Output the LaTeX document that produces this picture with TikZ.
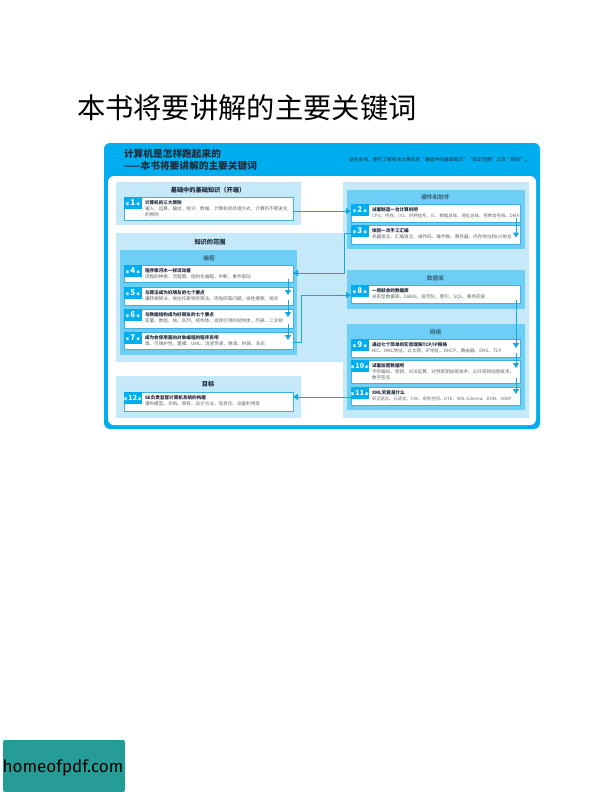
\documentclass[tikz,border=0pt]{standalone}
\usepackage{fontspec}
\setmainfont{Noto Sans CJK SC}
\newfontfamily\logofont{Fira Sans}
\usetikzlibrary{arrows.meta,calc}
\definecolor{outerblue}{HTML}{00AEEF}
\definecolor{lightblue}{HTML}{C6E9FA}
\definecolor{midblue}{HTML}{6DCFF6}
\definecolor{edgeblue}{HTML}{3FB0E0}
\definecolor{linkblue}{HTML}{12A8E6}
\definecolor{subgray}{HTML}{5F6368}
\definecolor{inkdark}{HTML}{1D2B3A}
\definecolor{logoteal}{HTML}{259C96}
\tikzset{
  x=1pt,y=-1pt,
  base/.style={inner sep=0pt,outer sep=0pt,anchor=north west},
  lightpanel/.style={base,fill=lightblue},
  midpanel/.style={base,fill=midblue},
  card/.style={base,fill=white,draw=edgeblue,line width=0.9pt},
  badge/.style={base,fill=outerblue,text=white,font=\fontsize{3.2}{4}\selectfont\bfseries,align=center},
  cardtext/.style={base,align=left,font=\fontsize{4.6}{6}\selectfont,text=subgray},
  ptitle/.style={inner sep=0pt,font=\fontsize{6.2}{7}\selectfont\bfseries,text=inkdark},
  stitle/.style={inner sep=0pt,font=\fontsize{5.7}{7}\selectfont,text=inkdark},
  link/.style={draw=linkblue,line width=1pt,-{Triangle[length=5pt,width=6pt]}},
}
\newcommand{\rbox}[6]{\node[#2,minimum width={(#5-#3)*1pt},minimum height={(#6-#4)*1pt}] (#1) at (#3,#4) {};}
\newcommand{\ecard}[8]{%
  \node[card,minimum width=169pt,minimum height={(#4-#3)*1pt}] (#1) at (#2,#3) {};
  \node[badge,minimum width=17.5pt,minimum height=12pt] (#1b) at (#2,#3) {第{\fontsize{#5}{8}\selectfont\,#6\,}章};
  \node[cardtext] (#1t) at ([shift={(21pt,-3.4pt)}]#1.north west) {{\color{inkdark}\bfseries #7}\\#8};
}
\begin{document}
\begin{tikzpicture}
\useasboundingbox (0,0) rectangle (612,792);
\fill[white] (0,0) rectangle (612,792);
\node[base,font=\fontsize{28.3}{30}\selectfont,text=black] (bigtitle) at (77,94.5) {本书将要讲解的主要关键词};
% frame
\node[base,fill=outerblue,rounded corners=6pt,minimum width=436pt,minimum height=286pt] (outer) at (104,143) {};
\node[base,fill=white,rounded corners=6pt,minimum width=428pt,minimum height=249pt] (inner) at (108,176) {};
\node[base,font=\fontsize{9.7}{11.7}\selectfont\bfseries,text=inkdark,align=left] (head) at (124,149) {计算机是怎样跑起来的\\——本书将要讲解的主要关键词};
\node[base,font=\fontsize{4.75}{6}\selectfont,text=inkdark] (intro) at (349,157.5) {读完本书，便可了解有关计算机的“基础中的基础知识”“知识范围”以及“目标”。};
% panels
\rbox{pbasic}{lightpanel}{116}{182}{301}{225}
\rbox{pscope}{lightpanel}{116}{233}{344}{362}
\rbox{pright}{lightpanel}{343}{182}{529}{418}
\rbox{pgoal}{lightpanel}{116}{376}{301}{418}
\rbox{mprog}{midpanel}{120}{250}{297}{355}
\rbox{mhard}{midpanel}{347}{190}{525}{249}
\rbox{mdb}{midpanel}{347}{270}{525}{309}
\rbox{mnet}{midpanel}{347}{324}{525}{410}
\node[ptitle] (tbasic) at (208,190) {基础中的基础知识（开端）};
\node[ptitle] (tscope) at (210,242) {知识的范围};
\node[ptitle] (tgoal) at (208,384) {目标};
\node[stitle] (tprog) at (209,258) {编程};
\node[stitle] (thard) at (435.5,197) {硬件和软件};
\node[stitle] (tdb) at (435.5,278) {数据库};
\node[stitle] (tnet) at (435.5,332) {网络};
% cards
\ecard{e1}{124}{197}{220}{8}{1}{计算机的三大原则}{输入、运算、输出、指令、数据、计算机的处理方式、计算机不断进化\\的原则}
\ecard{e4}{124}{265}{282.5}{8}{4}{程序像河水一样流动着}{流程的种类、流程图、结构化编程、中断、事件驱动}
\ecard{e5}{124}{287}{305}{8}{5}{与算法成为好朋友的七个要点}{辗转相除法、埃拉托斯特尼筛法、鸡兔同笼问题、线性搜索、哨兵}
\ecard{e6}{124}{309}{328}{8}{6}{与数据结构成为好朋友的七个要点}{变量、数组、栈、队列、结构体、自我引用的结构体、列表、二叉树}
\ecard{e7}{124}{332}{349}{8}{7}{成为会使用面向对象编程的程序员吧}{类、可维护性、建模、UML、消息传递、继承、封装、多态}
\ecard{e12}{124}{392}{411}{7}{12}{SE负责监督计算机系统的构建}{瀑布模型、文档、审核、设计方法、信息化、设备利用率}
\ecard{e2}{351}{204}{222}{8}{2}{试着制造一台计算机吧}{\fontsize{4.4}{6}\selectfont CPU、内存、I/O、时钟信号、IC、数据总线、地址总线、控制信号线、DMA}
\ecard{e3}{351}{225}{244.5}{8}{3}{体验一次手工汇编}{机器语言、汇编语言、操作码、操作数、寄存器、内存地址和I/O地址}
\ecard{e8}{351}{285}{303}{8}{8}{一用就会的数据库}{关系型数据库、DBMS、规范化、索引、SQL、事务回滚}
\ecard{e9}{351}{339}{357}{8}{9}{通过七个简单的实验理解TCP/IP网络}{NIC、MAC地址、以太网、IP地址、DHCP、路由器、DNS、TCP}
\ecard{e10}{351}{360}{383}{7}{10}{试着加密数据吧}{字符编码、密钥、XOR运算、对称密钥加密技术、公开密钥加密技术、\\数字签名}
\ecard{e11}{351}{387}{405}{7}{11}{XML究竟是什么}{\fontsize{4.3}{6}\selectfont 标记语言、元语言、CSV、命名空间、DTD、XML Schema、DOM、SOAP}
% connectors
\coordinate (bendA) at (344,273);
\coordinate (bendB) at (301,295);
\draw[link] ([yshift=-2.5pt]e1.east) -- ([yshift=2pt]e2.west);
\draw[link] ([shift={(-4pt,4pt)}]e2.south east) -- ([shift={(-4pt,7pt)}]e3.south east);
\draw[link] ([yshift=1.75pt]e3.west) -| (bendA) -- (bendA -| e4.east);
\draw[link] ([shift={(-5pt,3.5pt)}]e4.south east) -- ([shift={(-5pt,10pt)}]e5.south east);
\draw[link] ([shift={(-5pt,5pt)}]e5.south east) -- ([shift={(-5pt,11pt)}]e6.south east);
\draw[link] ([shift={(-5pt,4pt)}]e6.south east) -- ([shift={(-5pt,9pt)}]e7.south east);
\draw[link] ([yshift=-1.5pt]e7.east) -| (bendB) -- (bendB -| e8.west);
\draw[link] ([shift={(-4pt,3pt)}]e8.south east) -- ([shift={(-4pt,9pt)}]e9.south east);
\draw[link] ([shift={(-4pt,4pt)}]e9.south east) -- ([shift={(-4pt,15pt)}]e10.south east);
\draw[link] ([shift={(-4pt,5pt)}]e10.south east) -- ([shift={(-4pt,11pt)}]e11.south east);
\draw[link] ([yshift=-1pt]e11.west) -- ([yshift=4.5pt]e12.east);
% logo
\node[base,fill=logoteal,rounded corners=2pt,minimum width=122pt,minimum height=52pt] (logo) at (3,740) {};
\node[inner sep=0pt,font=\logofont\fontsize{17}{20}\selectfont,text=black] (logotext) at (63,768) {homeofpdf.com};
\end{tikzpicture}
\end{document}
